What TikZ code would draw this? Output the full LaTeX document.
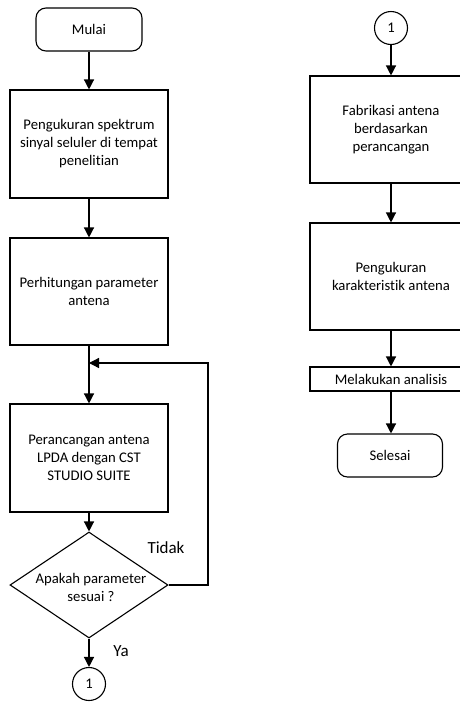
\documentclass[tikz,border=0pt]{standalone}
\usepackage{fontspec}
\setmainfont{Carlito}[Ligatures={NoCommon}]
\usetikzlibrary{shapes.geometric,arrows.meta}
\begin{document}
\begin{tikzpicture}[x=1pt,y=-1pt,
  every node/.style={font=\fontsize{14.7}{18}\selectfont, align=center, inner sep=0pt},
  box/.style={draw, line width=1.1pt, rectangle, minimum width=158pt, minimum height=108pt},
  rbox/.style={draw, line width=1.1pt, rectangle, minimum width=162pt},
  term/.style={draw, line width=1.1pt, rectangle, rounded corners=10pt, minimum width=106pt, minimum height=43pt},
  conn/.style={draw, line width=1.1pt, circle, minimum size=33pt},
  flow/.style={line width=1.3pt, -{Triangle[length=10pt,width=10pt]}},
  lbl/.style={font=\fontsize{17}{20}\selectfont}
]
\useasboundingbox (0,0) rectangle (460,702);
\clip (0,0) rectangle (460,702);
\fill[white] (0,0) rectangle (460,702);

% left column
\node[term] (start) at (89,29.5) {Mulai};
\node[box] (b1) at (89,144) {Pengukuran spektrum\\sinyal seluler di tempat\\penelitian};
\node[box, minimum height=107pt] (b2) at (89,291.5) {Perhitungan parameter\\antena};
\node[box] (b3) at (89,458) {Perancangan antena\\LPDA dengan CST\\STUDIO SUITE};
\node[draw, line width=1.1pt, diamond, minimum width=158pt, minimum height=106pt] (dia) at (89,585) {};
\node (diatxt) at (91,587) {Apakah parameter\\sesuai ?};
\node[conn] (c1) at (89,684) {1};
\coordinate (join) at (89,363);
\coordinate (loopR) at (208,585);
\coordinate (loopT) at (208,363);
\node[lbl] (tidak) at (166,548) {Tidak};
\node[lbl] (ya) at (121,651) {Ya};

\draw[flow] (start) -- (b1);
\draw[flow] (b1) -- (b2);
\draw[flow] (b2) -- (b3);
\draw[flow] (b3) -- (dia);
\draw[flow] (dia) -- (c1);
\draw[flow] (dia.east) -- (loopR) -- (loopT) -- (join);

% right column
\node[conn] (c2) at (391,28) {1};
\node[rbox, minimum height=107pt] (f) at (391,129.5) {Fabrikasi antena\\berdasarkan\\perancangan};
\node[rbox, minimum height=107pt] (p) at (391,276.5) {Pengukuran\\karakteristik antena};
\node[rbox, minimum height=24pt] (m) at (391,379) {Melakukan analisis};
\node[term, minimum width=105pt] (s) at (390,455.5) {Selesai};

\draw[flow] (c2) -- (f);
\draw[flow] (f) -- (p);
\draw[flow] (p) -- (m);
\draw[flow] (m) -- (m |- s.north);
\end{tikzpicture}
\end{document}
